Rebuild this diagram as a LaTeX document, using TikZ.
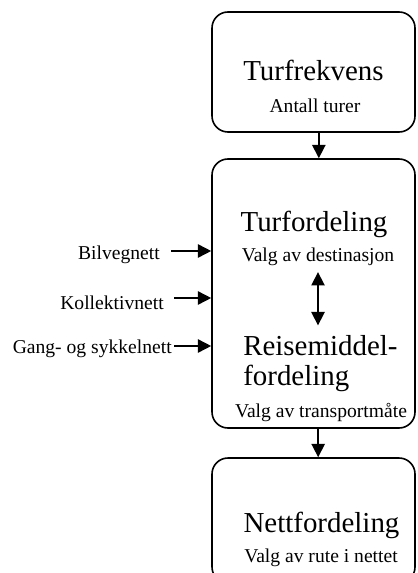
\documentclass[tikz,border=0pt]{standalone}
\usepackage{fontspec}
\setmainfont{Liberation Serif}
\usetikzlibrary{arrows.meta,positioning}

\tikzset{
    stage/.style={draw, line width=1.2pt, rounded corners=12pt, minimum width=152.25pt},
    title/.style={font=\fontsize{21.7}{22.5}\selectfont, inner sep=0pt},
    sub/.style={font=\fontsize{14.7}{17}\selectfont, inner sep=0pt},
    flow/.style={line width=1.2pt, ->}
}

\begin{document}
\begin{tikzpicture}[x=0.75pt,y=-0.75pt, >={Triangle[length=10pt,width=10pt]}]
    \clip (0,0) rectangle (417,573);
    % modelltrinn
    \node[stage, minimum height=90pt] (frekvens) at (313.5,72) {};
    \node[stage, minimum height=201.75pt] (fordeling) at (313.5,293.5) {};
    \node[stage, minimum height=93.75pt] (nett) at (313.5,520.5) {};
    % tekst i boksene
    \node[title, anchor=base] (frekvenstittel) at (313.5,81) {Turfrekvens};
    \node[sub, anchor=base] (turer) at (315,113) {Antall turer};
    \node[title, anchor=base] (turfordeling) at (314,231) {Turfordeling};
    \node[sub, anchor=base] (destinasjon) at (318,261) {Valg av destinasjon};
    \node[title, anchor=base west, align=left] (reisemiddel) at (243,385) {Reisemiddel-\\fordeling};
    \node[sub, anchor=base] (transportmaate) at (321,417) {Valg av transportmåte};
    \node[title, anchor=base] (netttittel) at (321.5,532) {Nettfordeling};
    \node[sub, anchor=base] (rute) at (321,562) {Valg av rute i nettet};
    % nettverk inn fra venstre
    \node[sub, anchor=base east] (bilvegnett) at (160,259) {Bilvegnett};
    \node[sub, anchor=base east] (kollektivnett) at (164,309) {Kollektivnett};
    \node[sub, anchor=base east] (gangsykkel) at (172,353) {Gang- og sykkelnett};
    \coordinate (bilinn) at (171,251);
    \coordinate (kollinn) at (174,298);
    \coordinate (ganginn) at (174,346);
    \foreach \c in {bilinn,kollinn,ganginn} {
        \draw[flow] (\c) -- (\c -| fordeling.west);
    }
    % piler mellom trinnene
    \draw[flow] ([xshift=4pt]frekvens.south) -- ([xshift=4pt]fordeling.north);
    \draw[flow] ([xshift=3.5pt]fordeling.south) -- ([xshift=3.5pt]nett.north);
    \draw[flow, <->] ([yshift=-5pt]destinasjon.south) -- ([yshift=7pt]destinasjon.south |- reisemiddel.north);
\end{tikzpicture}
\end{document}
